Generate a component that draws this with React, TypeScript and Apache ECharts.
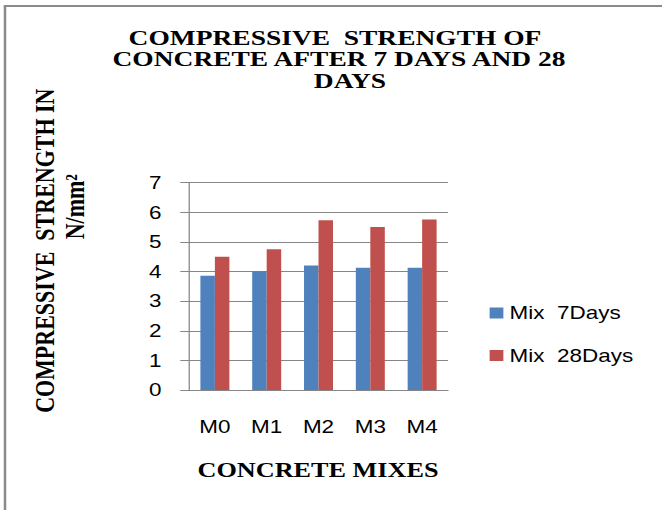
import { useEffect, useRef } from 'react';
import * as echarts from 'echarts';

// Chart values
const categories = ['M0', 'M1', 'M2', 'M3', 'M4'];
const mix7Days = [3.86, 4.01, 4.2, 4.13, 4.13];
const mix28Days = [4.5, 4.75, 5.73, 5.5, 5.76];
const seriesNames = ['Mix  7Days', 'Mix  28Days'];
const titleLines = ['COMPRESSIVE  STRENGTH OF', 'CONCRETE AFTER 7 DAYS AND 28', 'DAYS'];
const yTitleLines = ['COMPRESSIVE  STRENGTH IN', 'N/mm²'];
const xTitle = 'CONCRETE MIXES';

// The drawing is laid out on a narrower canvas and widened horizontally,
// which gives the wide, stretched lettering of the original sheet.
const BASE_W = 530;
const H = 510;
const OUT_W = 662;
const STRETCH = OUT_W / BASE_W;

const SERIF = 'Liberation Serif';
const SANS = 'Liberation Sans';
const GRID_GRAY = '#868686';
const BORDER_GRAY = '#8a8a8a';

const serifText = (size: number, lineHeight?: number) => ({
  fontFamily: SERIF,
  fontWeight: 'bold' as const,
  fontSize: size,
  lineHeight: lineHeight ?? size,
  fill: '#000',
  textAlign: 'center' as const,
  textVerticalAlign: 'middle' as const,
});

export default function App() {
  const ref = useRef<HTMLDivElement>(null);

  useEffect(() => {
    if (!ref.current) return;
    const chart = echarts.init(ref.current, undefined, { renderer: 'svg' });

    const titleCenters = [268.2, 271.4, 280.2];
    const titleYs = [37.0, 58.6, 80.2];

    chart.setOption({
      animation: false,
      backgroundColor: '#ffffff',
      grid: { left: 151.3, right: BASE_W - 358.7, top: 182.7, bottom: H - 390, containLabel: false },
      legend: {
        orient: 'vertical',
        left: 392,
        top: 304,
        padding: 0,
        icon: 'rect',
        itemWidth: 11,
        itemHeight: 11,
        itemGap: 24.5,
        data: seriesNames,
        textStyle: { fontFamily: SANS, fontSize: 18, lineHeight: 18, color: '#000' },
      },
      xAxis: {
        type: 'category',
        data: categories,
        axisLine: { show: true, lineStyle: { color: GRID_GRAY, width: 1 } },
        axisTick: { show: false },
        axisLabel: { fontFamily: SANS, fontSize: 18, lineHeight: 18, color: '#000', margin: 28 },
      },
      yAxis: {
        type: 'value',
        min: 0,
        max: 7,
        interval: 1,
        axisLine: { show: true, lineStyle: { color: GRID_GRAY, width: 1 } },
        axisTick: { show: true, length: 7, lineStyle: { color: GRID_GRAY } },
        splitLine: { show: true, lineStyle: { color: GRID_GRAY, width: 1 } },
        axisLabel: { fontFamily: SANS, fontSize: 18, lineHeight: 18, color: '#000', margin: 22 },
      },
      series: [
        {
          name: seriesNames[0],
          type: 'bar',
          data: mix7Days,
          barWidth: 11.6,
          barGap: '0%',
          itemStyle: { color: '#4F81BD' },
        },
        {
          name: seriesNames[1],
          type: 'bar',
          data: mix28Days,
          barWidth: 11.6,
          barGap: '0%',
          itemStyle: { color: '#C0504D' },
        },
      ],
      graphic: [
        // chart-area frame (left and top edges)
        { type: 'line', shape: { x1: 4, y1: 6, x2: 4, y2: H + 10 }, style: { stroke: BORDER_GRAY, lineWidth: 2 } },
        { type: 'line', shape: { x1: 3, y1: 6, x2: BASE_W + 10, y2: 6 }, style: { stroke: BORDER_GRAY, lineWidth: 2 } },
        ...titleLines.map((t, i) => ({
          type: 'text',
          x: titleCenters[i],
          y: titleYs[i],
          style: { text: t, ...serifText(22, 21) },
        })),
        {
          type: 'text',
          x: 36,
          y: 250.7,
          rotation: Math.PI / 2,
          style: { text: yTitleLines[0], ...serifText(22) },
        },
        {
          type: 'text',
          x: 59.4,
          y: 206.7,
          rotation: Math.PI / 2,
          style: { text: yTitleLines[1], ...serifText(22) },
        },
        {
          type: 'text',
          x: 254.6,
          y: 470,
          style: { text: xTitle, ...serifText(21) },
        },
      ],
    });

    return () => chart.dispose();
  }, []);

  return (
    <div
      style={{
        position: 'fixed',
        left: 0,
        top: 0,
        width: OUT_W,
        height: H,
        overflow: 'hidden',
        background: '#fff',
      }}
    >
      <div
        ref={ref}
        style={{
          width: BASE_W,
          height: H,
          transform: `scaleX(${STRETCH})`,
          transformOrigin: '0 0',
        }}
      />
    </div>
  );
}
